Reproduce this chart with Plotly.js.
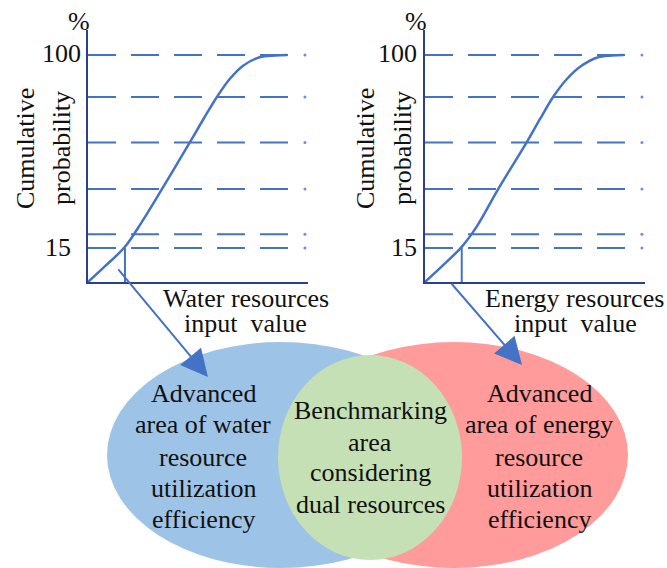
<!DOCTYPE html>
<html>
<head>
<meta charset="utf-8">
<script src="https://cdn.plot.ly/plotly-3.0.1.min.js"></script>
<style>html,body{margin:0;padding:0;background:#fff;}#chart{width:667px;height:568px;}</style>
</head>
<body>
<div id="chart"></div>
<script>
// ---- data ----
const waterX = [0, 8, 16.8, 24.5, 33.6, 46.4, 52.5, 58.6, 64.5, 70.5, 78, 85, 90.5];
const waterY = [0, 7.2, 15.5, 26.5, 40.9, 61.7, 71.8, 81.5, 89.5, 95.3, 99, 99.8, 100];
const energyX = [0, 8, 16.7, 23.5, 33.2, 46.2, 52.3, 58.3, 64.4, 70.5, 78, 85, 90.2];
const energyY = [0, 7.2, 15.5, 24.4, 40.8, 61.5, 71.8, 81.6, 89.3, 94.8, 98.8, 99.8, 100];
const gridLevels = [100, 81.5, 61.5, 41, 21, 15];
const gridEnd = 91;
const dotX = 98.6;
const markLevel = 15;
const markXWater = 16.8;
const markXEnergy = 16.7;
const yTickLabels = ['100', '15'];
const yAxisTitle = ['Cumulative', 'probability'];
const waterTitle = ['Water resources', 'input  value'];
const energyTitle = ['Energy resources', 'input  value'];
const leftText = ['Advanced', 'area of water', 'resource', 'utilization', 'efficiency'];
const centerText = ['Benchmarking', 'area', 'considering', 'dual resources'];
const rightText = ['Advanced', 'area of energy', 'resource', 'utilization', 'efficiency'];

// ---- styling ----
const W = 667, H = 568;
const px = x => x / W;
const py = y => 1 - y / H;
const BLUE = '#4472C4';
const NAVY = '#2B3F8C';
const FONT = {family: 'Liberation Serif', size: 26, color: '#111'};

const traces = [];
function addChart(xs, ys, markX, xa, ya) {
  traces.push({x: xs, y: ys, xaxis: xa, yaxis: ya, mode: 'lines', line: {color: BLUE, width: 2.5, shape: 'spline', smoothing: 1}, hoverinfo: 'skip'});
  gridLevels.forEach(l => {
    traces.push({x: [0, gridEnd], y: [l, l], xaxis: xa, yaxis: ya, mode: 'lines', line: {color: BLUE, width: 2, dash: '28px,15px'}, hoverinfo: 'skip'});
  });
  traces.push({x: gridLevels.map(() => dotX), y: gridLevels, xaxis: xa, yaxis: ya, mode: 'markers', marker: {color: '#6A90D8', size: 3}, hoverinfo: 'skip'});
  traces.push({x: [markX, markX], y: [0, markLevel], xaxis: xa, yaxis: ya, mode: 'lines', line: {color: BLUE, width: 2}, hoverinfo: 'skip'});
}
addChart(waterX, waterY, markXWater, 'x', 'y');
addChart(energyX, energyY, markXEnergy, 'x2', 'y2');

const axisCommon = {showline: true, linecolor: NAVY, linewidth: 2, showgrid: false, zeroline: false, showticklabels: false, ticks: '', fixedrange: true};

const ann = [];
function txt(text, x, y, extra) {
  ann.push(Object.assign({text: text, x: px(x), y: py(y), xref: 'paper', yref: 'paper', showarrow: false, font: FONT, xanchor: 'center', yanchor: 'middle'}, extra || {}));
}
// left chart labels
txt('%', 79, 22);
txt(yTickLabels[0], 83, 53, {xanchor: 'right'});
txt(yTickLabels[1], 73, 247, {xanchor: 'right'});
txt(yAxisTitle[0], 26, 149, {textangle: -90});
txt(yAxisTitle[1], 61, 148, {textangle: -90});
txt(waterTitle[0], 246, 298);
txt(waterTitle[1], 245, 323);
// right chart labels
txt('%', 416, 22);
txt(yTickLabels[0], 419, 53, {xanchor: 'right'});
txt(yTickLabels[1], 419, 247, {xanchor: 'right'});
txt(yAxisTitle[0], 366, 149, {textangle: -90});
txt(yAxisTitle[1], 402, 148, {textangle: -90});
txt(energyTitle[0], 574, 298);
txt(energyTitle[1], 575, 323);
// venn texts
const vennY = [393, 425, 457, 488, 519];
leftText.forEach((t, i) => txt(t, 203, vennY[i]));
const centerY = [410, 442, 473, 504];
centerText.forEach((t, i) => txt(t, 370, centerY[i]));
rightText.forEach((t, i) => txt(t, 539, vennY[i]));

// arrows
ann.push({text: '', showarrow: true, xref: 'x', yref: 'y', axref: 'x', ayref: 'y',
  x: 54.5, y: -41.9, ax: 13.2, ay: 6.2, arrowhead: 2, arrowsize: 2.7, arrowwidth: 2, arrowcolor: BLUE, standoff: 0});
ann.push({text: '', showarrow: true, xref: 'x2', yref: 'y2', axref: 'x2', ayref: 'y2',
  x: 44.1, y: -36.6, ax: 11.4, ay: 0, arrowhead: 2, arrowsize: 2.7, arrowwidth: 2, arrowcolor: BLUE, standoff: 0});

const shapes = [
  {type: 'circle', xref: 'paper', yref: 'paper', x0: px(107), x1: px(455), y0: py(568), y1: py(342), fillcolor: '#9DC3E6', line: {width: 0}, layer: 'below'},
  {type: 'circle', xref: 'paper', yref: 'paper', x0: px(280), x1: px(628), y0: py(568), y1: py(342), fillcolor: '#FF9B9B', line: {width: 0}, layer: 'below'},
  {type: 'circle', xref: 'paper', yref: 'paper', x0: px(278), x1: px(462), y0: py(560), y1: py(355), fillcolor: '#C5E0B4', line: {width: 0}, layer: 'below'}
];

const layout = {
  width: W, height: H,
  margin: {l: 0, r: 0, t: 0, b: 0},
  paper_bgcolor: '#fff', plot_bgcolor: 'rgba(0,0,0,0)',
  showlegend: false,
  font: {family: 'Liberation Serif'},
  xaxis: Object.assign({domain: [px(88), px(308)], range: [0, 100], anchor: 'y'}, axisCommon),
  yaxis: Object.assign({domain: [py(282), py(30)], range: [0, 111], anchor: 'x'}, axisCommon),
  xaxis2: Object.assign({domain: [px(425), px(645)], range: [0, 100], anchor: 'y2'}, axisCommon),
  yaxis2: Object.assign({domain: [py(282), py(30)], range: [0, 111], anchor: 'x2'}, axisCommon),
  annotations: ann,
  shapes: shapes
};
Plotly.newPlot('chart', traces, layout, {displayModeBar: false, staticPlot: true});
</script>
</body>
</html>
